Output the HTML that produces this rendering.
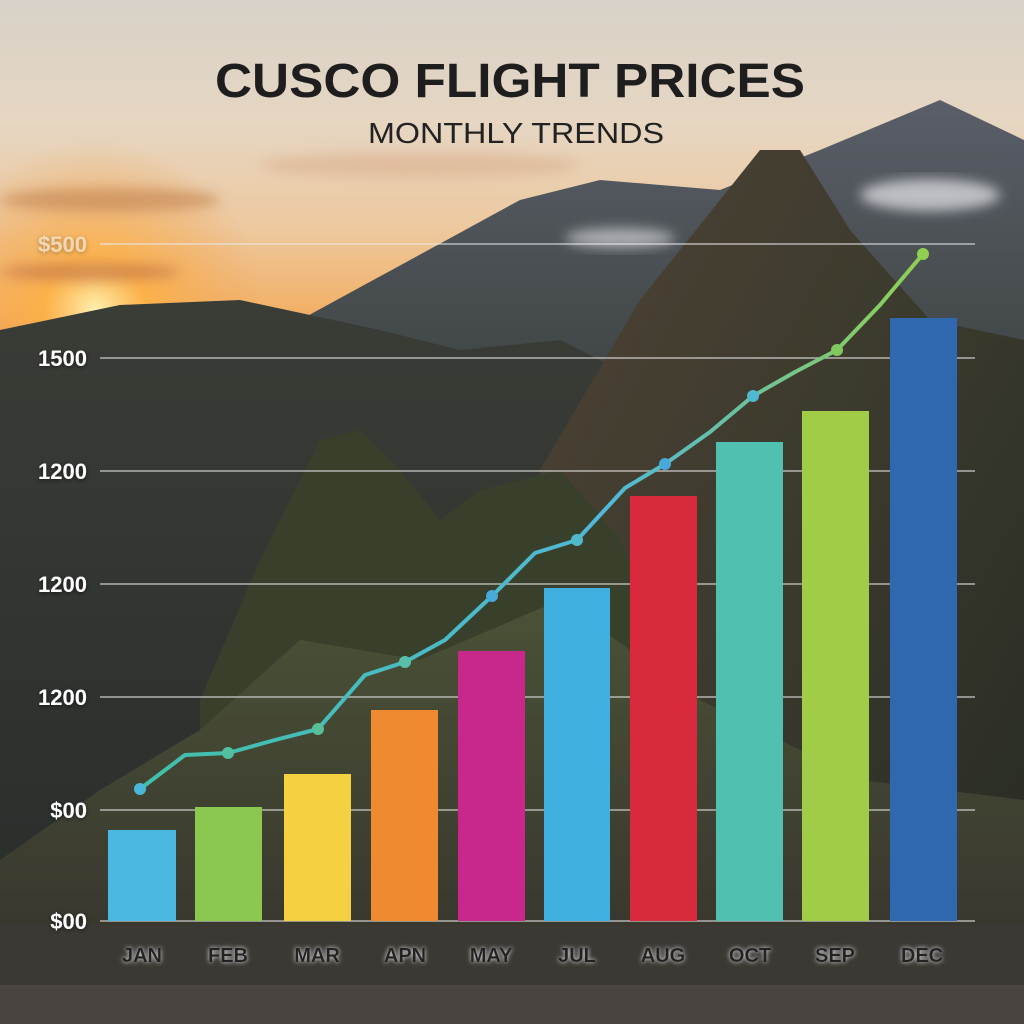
<!DOCTYPE html>
<html><head><meta charset="utf-8"><style>
html,body{margin:0;padding:0;width:1024px;height:1024px;overflow:hidden;background:#3a3a38}
svg{display:block}
</style></head><body>
<svg width="1024" height="1024" viewBox="0 0 1024 1024" xmlns="http://www.w3.org/2000/svg">
<defs>
<linearGradient id="sky" x1="0" y1="0" x2="0" y2="1">
<stop offset="0" stop-color="#d8d2c8"/><stop offset="0.12" stop-color="#e6d6c2"/>
<stop offset="0.22" stop-color="#edc9a0"/><stop offset="0.3" stop-color="#f2b26a"/>
<stop offset="0.36" stop-color="#d8905a"/></linearGradient>
<radialGradient id="sun" cx="95" cy="310" r="170" gradientUnits="userSpaceOnUse">
<stop offset="0" stop-color="#fff0b0"/><stop offset="0.3" stop-color="#ffb040" stop-opacity="0.8"/><stop offset="1" stop-color="#f0a050" stop-opacity="0"/></radialGradient>
<linearGradient id="far" x1="0" y1="0" x2="0" y2="1"><stop offset="0" stop-color="#5a5e68"/><stop offset="1" stop-color="#3c4240"/></linearGradient>
<linearGradient id="mid" x1="0" y1="0" x2="0" y2="1"><stop offset="0" stop-color="#3a3c36"/><stop offset="1" stop-color="#262c2a"/></linearGradient>
<linearGradient id="peak" x1="0" y1="0" x2="1" y2="1"><stop offset="0" stop-color="#4e4236"/><stop offset="0.5" stop-color="#3a3a2c"/><stop offset="1" stop-color="#262a24"/></linearGradient>
<linearGradient id="ground" x1="0" y1="0" x2="0" y2="1"><stop offset="0" stop-color="#4a5236"/><stop offset="1" stop-color="#34302c"/></linearGradient>
<linearGradient id="ln" x1="0" y1="0" x2="1" y2="0"><stop offset="0" stop-color="#40c0a8"/><stop offset="0.6" stop-color="#50b8d8"/><stop offset="1" stop-color="#90d050"/></linearGradient>
<filter id="sh"><feDropShadow dx="0" dy="1" stdDeviation="2" flood-color="#000" flood-opacity="0.6"/></filter>
<filter id="wg"><feDropShadow dx="0" dy="0" stdDeviation="2.5" flood-color="#fff" flood-opacity="0.9"/></filter>
<filter id="bl"><feGaussianBlur stdDeviation="6"/></filter>
</defs>
<rect width="1024" height="1024" fill="url(#sky)"/>
<rect width="1024" height="420" fill="url(#sun)"/>
<g filter="url(#bl)">
<ellipse cx="110" cy="200" rx="110" ry="12" fill="#c88a58" opacity="0.7"/>
<ellipse cx="90" cy="272" rx="90" ry="9" fill="#c87a48" opacity="0.7"/>
<ellipse cx="420" cy="165" rx="160" ry="12" fill="#d8a888" opacity="0.5"/>
</g>
<polygon points="300,320 520,200 600,180 720,190 820,150 940,100 1024,140 1024,420 300,420" fill="url(#far)"/>
<g filter="url(#bl)">
<ellipse cx="930" cy="195" rx="70" ry="16" fill="#e8eaee" opacity="0.7"/>
<ellipse cx="620" cy="238" rx="55" ry="10" fill="#e8eaee" opacity="0.6"/>
</g>
<polygon points="0,330 120,305 240,300 380,330 460,350 560,340 640,380 700,400 700,1024 0,1024" fill="url(#mid)"/>
<polygon points="540,470 640,300 720,200 760,150 800,150 850,230 930,320 1024,340 1024,1024 540,1024" fill="url(#peak)"/>
<polygon points="200,700 260,560 320,440 360,430 400,470 440,520 480,490 560,470 620,540 700,700 700,1024 200,1024" fill="#38402c"/>
<polygon points="0,860 100,790 200,730 300,640 420,660 560,600 700,700 860,780 1024,800 1024,1024 0,1024" fill="url(#ground)"/>
<rect x="0" y="925" width="1024" height="99" fill="#3c3834"/>
<rect x="0" y="985" width="1024" height="39" fill="#4a4440"/>
<g stroke="#e8e8e8" stroke-opacity="0.7" stroke-width="1.5">
<line x1="100" y1="244" x2="975" y2="244"/><line x1="100" y1="358" x2="975" y2="358"/>
<line x1="100" y1="471" x2="975" y2="471"/><line x1="100" y1="584" x2="975" y2="584"/>
<line x1="100" y1="697" x2="975" y2="697"/><line x1="100" y1="810" x2="975" y2="810"/>
<line x1="100" y1="921" x2="975" y2="921"/></g>
<g font-family="Liberation Sans, sans-serif" font-weight="bold" font-size="22" fill="#fff" text-anchor="end" filter="url(#sh)">
<text x="87" y="252" opacity="0.5">$500</text><text x="87" y="366">1500</text><text x="87" y="479">1200</text>
<text x="87" y="592">1200</text><text x="87" y="705">1200</text><text x="87" y="818">$00</text><text x="87" y="929">$00</text></g>
<rect x="108" y="830" width="68" height="91" fill="#4ab8e0"/>
<rect x="195" y="807" width="67" height="114" fill="#8cc850"/>
<rect x="284" y="774" width="67" height="147" fill="#f5d040"/>
<rect x="371" y="710" width="67" height="211" fill="#f08a30"/>
<rect x="458" y="651" width="67" height="270" fill="#c8288c"/>
<rect x="544" y="588" width="66" height="333" fill="#40b0e0"/>
<rect x="630" y="496" width="67" height="425" fill="#d82a3c"/>
<rect x="716" y="442" width="67" height="479" fill="#50c0b0"/>
<rect x="802" y="411" width="67" height="510" fill="#a0cc48"/>
<rect x="890" y="318" width="67" height="603" fill="#3068b0"/>
<polyline points="140,789 185,755 228,753 275,740 318,729 365,675 405,662 445,640 492,596 535,553 577,540 625,488 665,464 710,432 753,396 795,372 837,350 880,305 923,254" fill="none" stroke="url(#ln)" stroke-width="4" stroke-linejoin="round"/>
<g>
<circle cx="140" cy="789" r="6" fill="#48b8d8"/><circle cx="228" cy="753" r="6" fill="#50c0a0"/><circle cx="318" cy="729" r="6" fill="#58c098"/>
<circle cx="405" cy="662" r="6" fill="#58c0a8"/><circle cx="492" cy="596" r="6" fill="#48a8d8"/><circle cx="577" cy="540" r="6" fill="#50b8c8"/>
<circle cx="665" cy="464" r="6" fill="#48a8d8"/><circle cx="753" cy="396" r="6" fill="#50b8d0"/><circle cx="837" cy="350" r="6" fill="#80c860"/>
<circle cx="923" cy="254" r="6" fill="#90d050"/></g>
<g font-family="Liberation Sans, sans-serif" font-weight="bold" font-size="20" fill="#222" text-anchor="middle" filter="url(#wg)">
<text x="142" y="962">JAN</text><text x="228" y="962">FEB</text><text x="317" y="962">MAR</text><text x="405" y="962">APN</text>
<text x="491" y="962">MAY</text><text x="577" y="962">JUL</text><text x="663" y="962">AUG</text><text x="750" y="962">OCT</text>
<text x="835" y="962">SEP</text><text x="922" y="962">DEC</text></g>
<text x="510" y="97" font-family="Liberation Sans, sans-serif" font-weight="bold" font-size="48" fill="#1e1e1e" text-anchor="middle" textLength="590" lengthAdjust="spacingAndGlyphs">CUSCO FLIGHT PRICES</text>
<text x="516" y="143" font-family="Liberation Sans, sans-serif" font-size="29" fill="#222" text-anchor="middle" textLength="296" lengthAdjust="spacingAndGlyphs">MONTHLY TRENDS</text>
</svg>
</body></html>
